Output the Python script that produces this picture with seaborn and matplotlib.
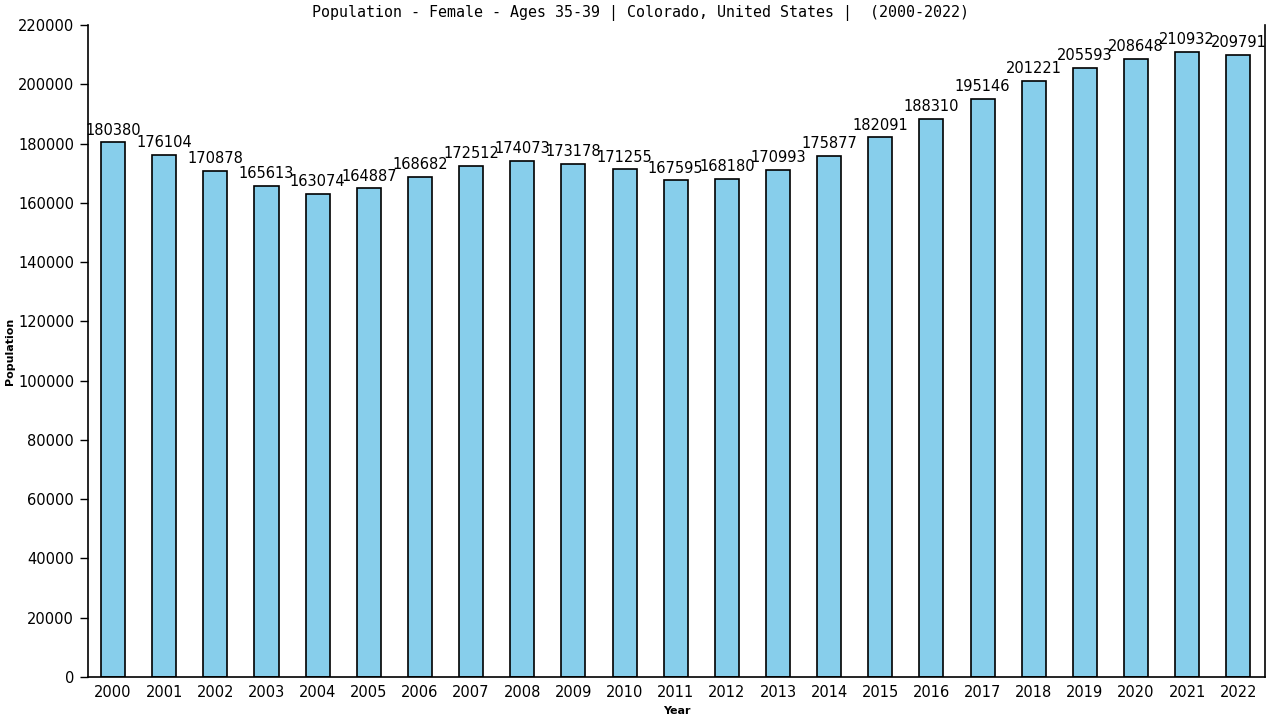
import matplotlib
matplotlib.use("Agg")
import matplotlib.pyplot as plt
import pandas as pd
import seaborn as sns

years = [str(y) for y in range(2000, 2023)]
population = [
    180380, 176104, 170878, 165613, 163074, 164887, 168682, 172512,
    174073, 173178, 171255, 167595, 168180, 170993, 175877, 182091,
    188310, 195146, 201221, 205593, 208648, 210932, 209791,
]
y_ticks = list(range(0, 220001, 20000))

df = pd.DataFrame({"year": years, "population": population})

sns.set_style("white")
plt.rcParams["font.family"] = ["DejaVu Sans"]
plt.rcParams["text.color"] = "black"
plt.rcParams["axes.labelcolor"] = "black"
plt.rcParams["xtick.color"] = "black"
plt.rcParams["ytick.color"] = "black"

fig = plt.figure(figsize=(12.8, 7.2), dpi=100)
ax = fig.add_axes([0.06875, 0.0597, 0.9195, 0.9056])

sns.barplot(
    data=df,
    x="year",
    y="population",
    color="#87CEEB",
    saturation=1,
    width=0.47,
    edgecolor="black",
    linewidth=1.2,
    ax=ax,
)

for i, v in enumerate(population):
    ax.text(i, v + 1600, str(v), ha="center", va="bottom", fontsize=10.5,
            color="black")

ax.set_xlim(-0.49, 22.52)
ax.set_ylim(0, 220000)
ax.set_yticks(y_ticks)
ax.set_yticklabels([str(t) for t in y_ticks], fontsize=10.5)
ax.tick_params(axis="y", direction="out", length=6, width=1, left=True, pad=4)
ax.tick_params(axis="x", length=0, labelsize=10.5, pad=6)

ax.set_xlabel("Year", fontsize=8, fontweight="bold", labelpad=4)
ax.set_ylabel("Population", fontsize=8, fontweight="bold", labelpad=2)
fig.text(
    0.5,
    0.982,
    "Population - Female - Ages 35-39 | Colorado, United States |  (2000-2022)",
    fontsize=10.8,
    family="DejaVu Sans Mono",
    ha="center",
    va="center",
)

for side in ["left", "bottom", "right"]:
    ax.spines[side].set_visible(True)
    ax.spines[side].set_color("black")
    ax.spines[side].set_linewidth(1.2)
ax.spines["top"].set_visible(False)

fig.savefig("out.png", dpi=100)
